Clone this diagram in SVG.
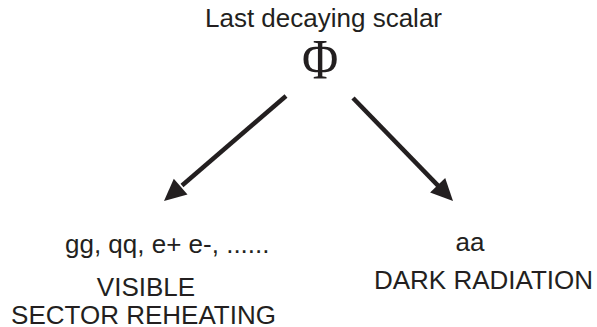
<svg xmlns="http://www.w3.org/2000/svg" width="597" height="327" viewBox="0 0 597 327">
<style>
.t{font-family:"Liberation Sans",Arial,sans-serif;font-size:26px;fill:#231f20}
.phi{font-family:"Liberation Serif","Times New Roman",serif;font-size:57px;fill:#231f20}
.ln{stroke:#231f20;stroke-width:4.5;fill:none}
.hd{fill:#231f20}
</style>
<rect width="597" height="327" fill="#fff"/>
<g id="scalar">
<text class="t" x="323.5" y="27" text-anchor="middle">Last decaying scalar</text>
<text class="phi" text-anchor="middle" transform="translate(320,79) scale(0.87,1)">Φ</text>
</g>
<g id="visible">
<text class="t" x="65" y="253">gg, qq, e+ e-, ......</text>
<text class="t" x="146" y="296" text-anchor="middle">VISIBLE</text>
<text class="t" x="143.5" y="323.5" text-anchor="middle">SECTOR REHEATING</text>
</g>
<g id="dark">
<text class="t" x="470" y="251" text-anchor="middle">aa</text>
<text class="t" x="483.5" y="289" text-anchor="middle">DARK RADIATION</text>
</g>
<g id="connectors">
<line class="ln" x1="286" y1="96" x2="182" y2="185.5"/>
<polygon class="hd" points="164,201 187.5,194.6 173.8,178.7"/>
<line class="ln" x1="353" y1="98" x2="439" y2="186.6"/>
<polygon class="hd" points="453,201 430.1,192.5 445.2,177.9"/>
</g>
</svg>
